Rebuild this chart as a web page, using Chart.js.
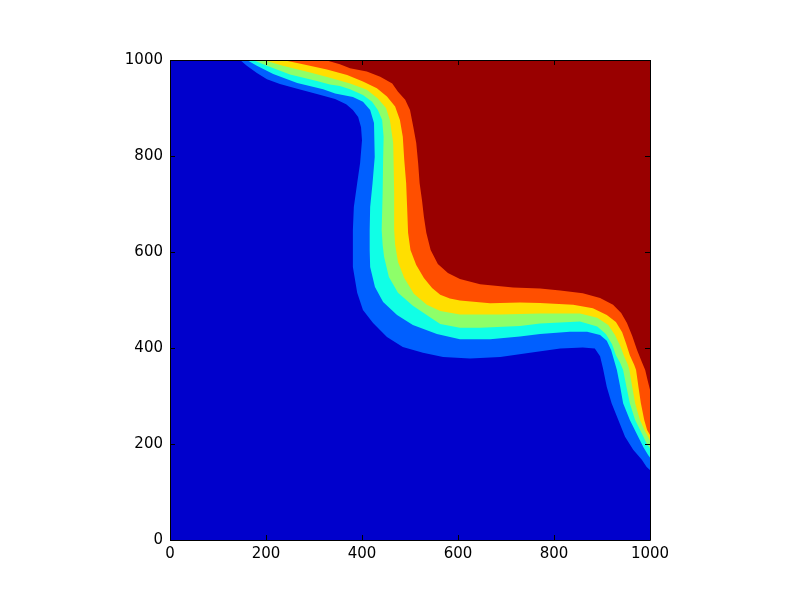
<!DOCTYPE html>
<html>
<head>
<meta charset="utf-8">
<script src="https://cdn.jsdelivr.net/npm/chart.js@4.4.1/dist/chart.umd.min.js"></script>
<style>
  html, body { margin: 0; padding: 0; background: #fff; }
  canvas { display: block; }
</style>
</head>
<body>
<canvas id="chart" width="800" height="600"></canvas>
<script>
// contour levels, low to high (jet)
const levelColors = ['#0000cc', '#005fff', '#10ffe6', '#8eff69', '#ffdf00', '#ff4f00', '#990000'];
const xTicks = [0, 200, 400, 600, 800, 1000];
const yTicks = [0, 200, 400, 600, 800, 1000];

// boundary under each level, running from the top edge round to the right edge
const edge1 = [[146,1000],[160,988],[181,973],[202,960],[229,950],[265,940],[306,929],[344,919],[367,908],[381,896],[392,881],[398,860],[400,833],[396,785],[390,744],[383,694],[381,646],[381,569],[390,515],[402,479],[423,452],[452,423],[485,402],[527,390],[569,381],[625,378],[688,381],[750,390],[813,399],[860,401],[885,399],[896,383],[902,358],[910,319],[920,285],[934,250],[948,215],[965,188],[983,167],[993,152],[1000,146]];
const edge2 = [[160,1000],[181,988],[215,971],[265,952],[319,939],[344,930],[381,923],[402,913],[417,896],[425,869],[427,840],[426,798],[422,744],[417,694],[416,646],[416,604],[417,569],[427,527],[444,496],[473,469],[506,448],[556,429],[604,418],[667,418],[729,424],[771,429],[833,434],[869,434],[896,427],[910,415],[919,396],[925,375],[931,354],[938,319],[944,285],[958,250],[972,222],[986,194],[996,177],[1000,172]];
const edge3 = [[173,1000],[202,988],[250,970],[306,956],[333,949],[354,946],[375,939],[402,927],[421,913],[433,896],[442,875],[445,840],[444,792],[443,723],[441,646],[443,615],[446,590],[456,548],[475,515],[506,488],[548,460],[563,450],[604,442],[646,442],[729,446],[771,451],[854,455],[890,445],[908,429],[921,408],[929,385],[938,369],[944,354],[951,319],[958,285],[969,250],[983,222],[993,201],[1000,191]];
const edge4 = [[194,1000],[235,988],[292,974],[333,963],[375,951],[410,938],[433,920],[450,900],[458,875],[465,827],[466,777],[467,723],[467,646],[469,615],[475,579],[488,546],[508,513],[535,490],[563,477],[604,470],[688,470],[771,472],[854,472],[890,463],[913,448],[927,427],[938,404],[946,383],[954,365],[957,354],[963,319],[969,285],[979,250],[990,226],[1000,208]];
const edge5 = [[235,1000],[277,991],[327,980],[369,969],[402,955],[431,941],[452,924],[469,903],[479,875],[485,840],[488,792],[492,744],[494,694],[496,640],[501,604],[513,573],[529,546],[546,525],[563,511],[583,503],[604,499],[667,493],[729,495],[771,494],[840,490],[881,483],[910,469],[929,454],[942,433],[950,410],[958,385],[967,365],[971,354],[976,319],[981,285],[988,250],[994,229],[1000,219]];
const edge6 = [[323,1000],[354,991],[375,983],[410,976],[438,965],[463,951],[475,934],[490,917],[500,896],[507,860],[513,827],[517,785],[520,744],[525,708],[529,673],[534,640],[543,604],[558,575],[579,556],[604,544],[646,533],[715,526],[771,524],[813,520],[860,514],[896,504],[923,490],[940,473],[952,452],[963,425],[973,396],[983,371],[990,354],[995,333],[1000,313]];

const edges = [edge1, edge2, edge3, edge4, edge5, edge6];
const xMax = 1000;
const yMax = 1000;

// each band: region above its edge, closed through the top-right corner
const datasets = edges.map((edge, i) => {
  const pts = edge.map(p => ({x: p[0], y: p[1]}));
  pts.push({x: xMax, y: yMax});
  return {
    data: pts,
    showLine: true,
    fill: 'shape',
    backgroundColor: levelColors[i + 1],
    borderColor: levelColors[i + 1],
    borderWidth: 0,
    pointRadius: 0,
    tension: 0,
    order: edges.length - i
  };
});

const framePlugin = {
  id: 'frame',
  beforeDatasetsDraw(chart) {
    const {ctx, chartArea: a} = chart;
    ctx.save();
    ctx.fillStyle = levelColors[0];
    ctx.fillRect(a.left, a.top, a.right - a.left, a.bottom - a.top);
    ctx.restore();
  },
  afterDraw(chart) {
    const {ctx, chartArea: a, scales} = chart;
    const len = 5;
    ctx.save();
    ctx.strokeStyle = '#000';
    ctx.lineWidth = 1;
    ctx.beginPath();
    xTicks.forEach(v => {
      const px = Math.round(scales.x.getPixelForValue(v)) + 0.5;
      ctx.moveTo(px, a.bottom); ctx.lineTo(px, a.bottom - len);
      ctx.moveTo(px, a.top); ctx.lineTo(px, a.top + len);
    });
    yTicks.forEach(v => {
      const py = Math.round(scales.y.getPixelForValue(v)) + 0.5;
      ctx.moveTo(a.left, py); ctx.lineTo(a.left + len, py);
      ctx.moveTo(a.right, py); ctx.lineTo(a.right - len, py);
    });
    ctx.stroke();
    ctx.beginPath();
    ctx.rect(a.left + 0.5, a.top + 0.5, a.right - a.left, a.bottom - a.top);
    ctx.stroke();
    ctx.restore();
  }
};

Chart.defaults.font.family = 'DejaVu Sans';
Chart.defaults.font.size = 15;
Chart.defaults.color = '#000';

new Chart(document.getElementById('chart'), {
  type: 'scatter',
  data: { datasets: datasets },
  options: {
    responsive: false,
    animation: false,
    events: [],
    layout: { padding: { left: 0, top: 60, right: 150, bottom: 0 } },
    plugins: { legend: { display: false }, tooltip: { enabled: false } },
    scales: {
      x: {
        type: 'linear',
        min: 0, max: xMax,
        grid: { display: false, drawTicks: false },
        border: { display: false },
        ticks: { stepSize: 200, padding: 5, maxRotation: 0, callback: v => String(v) },
        afterFit: (scale) => { scale.height = 60; }
      },
      y: {
        type: 'linear',
        min: 0, max: yMax,
        grid: { display: false, drawTicks: false },
        border: { display: false },
        ticks: { stepSize: 200, padding: 7, callback: v => String(v) },
        afterFit: (scale) => { scale.width = 170; }
      }
    }
  },
  plugins: [framePlugin]
});
</script>
</body>
</html>
